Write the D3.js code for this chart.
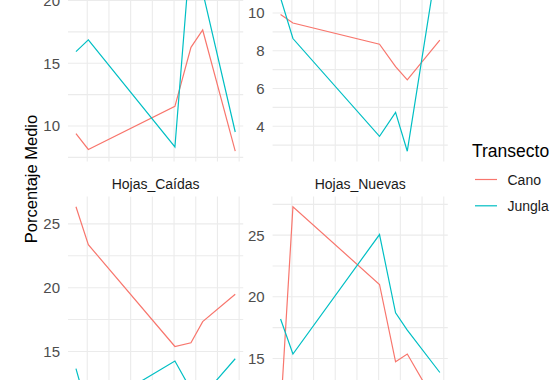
<!DOCTYPE html>
<html>
<head>
<meta charset="utf-8">
<script src="https://cdn.jsdelivr.net/npm/d3@7"></script>
<style>
body { margin: 0; background: #fff; }
svg { display: block; font-family: "Liberation Sans", Arial, sans-serif; }
</style>
</head>
<body>
<script>

// Datos: fechas de muestreo (en unidades del eje) y porcentaje medio por transecto
var muestreo = [0.48, 1.05, 5.04, 5.78, 6.32, 7.82];
var facetas = ["Flores", "Frutos", "Hojas_Caídas", "Hojas_Nuevas"];
var transectos = ["Cano", "Jungla"];

var canoFlores   = [9.40, 8.13, 11.56, 16.27, 17.65, 7.99];
var junglaFlores = [15.93, 16.86, 8.33, 24.4, 20.7, 9.52];
var canoFrutos   = [9.92, 9.47, 8.35, 7.16, 6.46, 8.56];
var junglaFrutos = [10.8, 8.65, 3.47, 4.74, 2.68, 13.59];
var canoCaidas   = [26.34, 23.37, 15.39, 15.68, 17.34, 19.48];
var junglaCaidas = [13.66, 10.2, 14.25, 12.0, 11.5, 14.43];
var canoNuevas   = [10.6, 27.3, 21.0, 14.73, 15.36, 10.8];
var junglaNuevas = [18.2, 15.36, 25.05, 18.7, 17.3, 13.86];

var series = [
    [canoFlores, junglaFlores],
    [canoFrutos, junglaFrutos],
    [canoCaidas, junglaCaidas],
    [canoNuevas, junglaNuevas]
];

//Width and height
var width = 558;
var height = 380;

// panel layout (the picture is a crop, top strips and x axis fall outside)
var panelLeft = [68, 272.6];
var panelTop = [-65, 196.5];
var panelW = 175.2;
var panelH = 226.5;

var color = d3.scaleOrdinal()
              .domain(transectos)
              .range(["#F8766D", "#00BFC4"]);

var svg = d3.select("body")
            .append("svg")
            .attr("width", width)
            .attr("height", height);

// ggplot style 5% expansion
function expand(ext) {
    var pad = (ext[1] - ext[0]) * 0.05;
    return [ext[0] - pad, ext[1] + pad];
}

function minors(scale, majors) {
    var step = majors[1] - majors[0];
    var dom = scale.domain();
    var out = [];
    majors.forEach(function(t) { out.push(t - step / 2); });
    out.push(majors[majors.length - 1] + step / 2);
    return out.filter(function(v) { return v >= dom[0] && v <= dom[1]; });
}

facetas.forEach(function(faceta, i) {
    var x0 = panelLeft[i % 2];
    var y0 = panelTop[Math.floor(i / 2)];

    var x = d3.scaleLinear()
              .domain(expand(d3.extent(muestreo)))
              .range([x0, x0 + panelW]);

    var todos = series[i][0].concat(series[i][1]);
    var y = d3.scaleLinear()
              .domain(expand(d3.extent(todos)))
              .range([y0 + panelH, y0]);

    var g = svg.append("g");

    var xMajor = x.ticks(4);
    var yMajor = y.ticks(5);
    var xLines = xMajor.concat(minors(x, xMajor));
    var yLines = yMajor.concat(minors(y, yMajor));

    g.selectAll(".gx")
     .data(xLines)
     .enter()
     .append("line")
     .attr("x1", d => x(d))
     .attr("x2", d => x(d))
     .attr("y1", y0)
     .attr("y2", y0 + panelH)
     .style("stroke", "#ebebeb")
     .style("stroke-width", 1.1);

    g.selectAll(".gy")
     .data(yLines)
     .enter()
     .append("line")
     .attr("x1", x0)
     .attr("x2", x0 + panelW)
     .attr("y1", d => y(d))
     .attr("y2", d => y(d))
     .style("stroke", "#ebebeb")
     .style("stroke-width", 1.1);

    // y axis labels
    g.selectAll(".ty")
     .data(yMajor)
     .enter()
     .append("text")
     .attr("x", x0 - 8)
     .attr("y", d => y(d))
     .attr("dy", "0.36em")
     .attr("text-anchor", "end")
     .style("font-size", "15px")
     .style("fill", "#4d4d4d")
     .text(d => d);

    // strip title
    g.append("text")
     .attr("x", x0 + panelW / 2)
     .attr("y", y0 - 7.5)
     .attr("text-anchor", "middle")
     .style("font-size", "14px")
     .style("fill", "#1a1a1a")
     .text(faceta);

    var line = d3.line()
                 .x((d, j) => x(muestreo[j]))
                 .y(d => y(d));

    transectos.forEach(function(t, k) {
        g.append("path")
         .datum(series[i][k])
         .attr("d", line)
         .style("fill", "none")
         .style("stroke", color(t))
         .style("stroke-width", 1.2);
    });
});

// y axis title
svg.append("text")
   .attr("transform", "translate(36.5,179) rotate(-90)")
   .attr("text-anchor", "middle")
   .style("font-size", "16.5px")
   .style("fill", "#000")
   .text("Porcentaje Medio");

// legend
var legend = svg.append("g");

legend.append("text")
      .attr("x", 472)
      .attr("y", 156.5)
      .style("font-size", "17.5px")
      .style("fill", "#000")
      .text("Transecto");

var keyY = d3.scalePoint()
             .domain(transectos)
             .range([179.5, 205.8]);

legend.selectAll(".key")
      .data(transectos)
      .enter()
      .append("line")
      .attr("x1", 475)
      .attr("x2", 497)
      .attr("y1", d => keyY(d))
      .attr("y2", d => keyY(d))
      .style("stroke", d => color(d))
      .style("stroke-width", 1.2);

legend.selectAll(".lab")
      .data(transectos)
      .enter()
      .append("text")
      .attr("x", 507.5)
      .attr("y", d => keyY(d))
      .attr("dy", "0.36em")
      .style("font-size", "14px")
      .style("fill", "#1a1a1a")
      .text(d => d);

</script>
</body>
</html>
